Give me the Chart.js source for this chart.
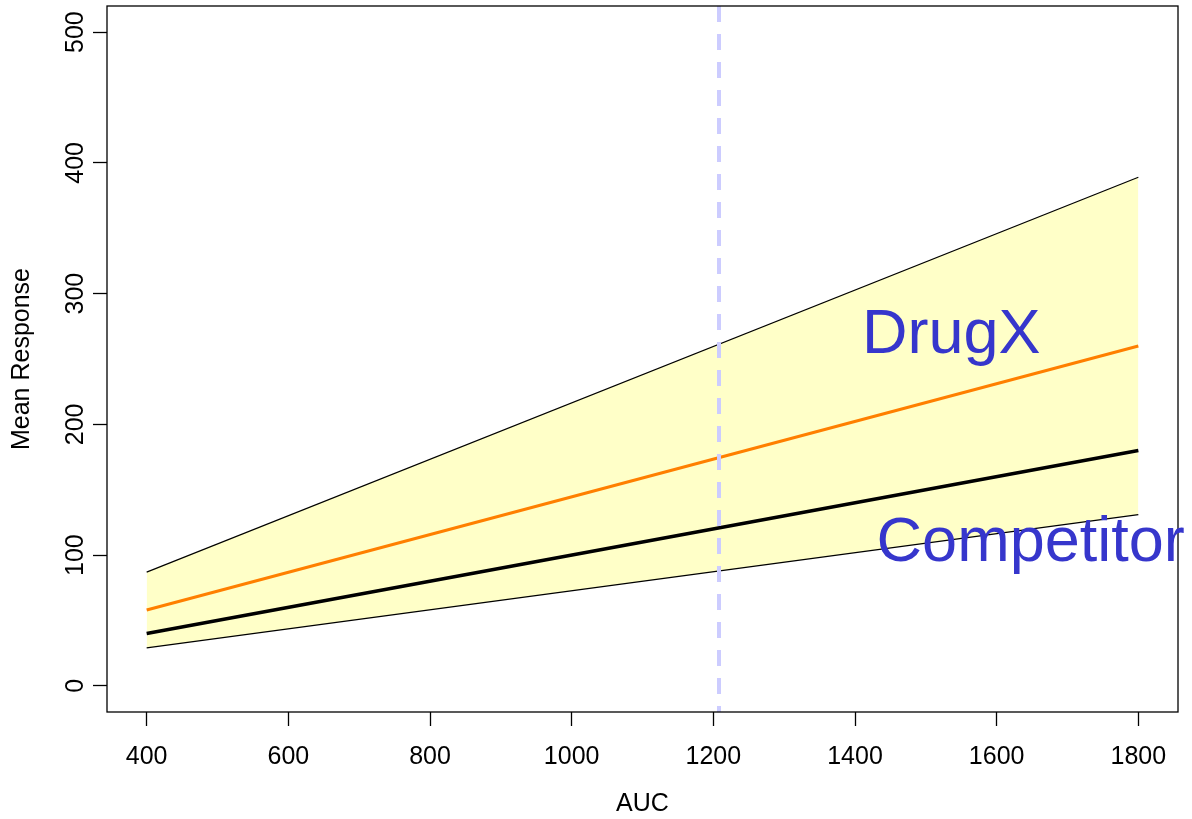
<!DOCTYPE html>
<html>
<head>
<meta charset="utf-8">
<script src="https://cdn.jsdelivr.net/npm/chart.js@4/dist/chart.umd.min.js"></script>
<style>
    html, body { margin: 0; padding: 0; background: #fff; }
    #wrap { width: 1192px; height: 819px; }
</style>
</head>
<body>
<div id="wrap"><canvas id="chart"></canvas></div>
<script>
// AUC values and the curves
const auc = [400, 1800];
const upperBound = [87, 389];
const lowerBound = [29, 131];
const drugX = [58, 260];
const competitor = [40, 180];
const xTicks = [400, 600, 800, 1000, 1200, 1400, 1600, 1800];
const yTicks = [0, 100, 200, 300, 400, 500];
const refAUC = 1208;

// text labels placed in data coordinates
const textLabels = [
    { text: 'DrugX', x: 1536, y: 268 },
    { text: 'Competitor', x: 1648, y: 109 },
];

const font = 'Liberation Sans, Arial, sans-serif';
const toXY = (ys) => auc.map((x, i) => ({ x, y: ys[i] }));

// full box around the plot region, plus the big blue labels
const boxAndText = {
    id: 'boxAndText',
    afterDatasetsDraw(chart) {
        const { ctx, chartArea: a, scales } = chart;
        ctx.save();
        ctx.strokeStyle = '#000';
        ctx.lineWidth = 1.3;
        ctx.strokeRect(a.left, a.top, a.right - a.left, a.bottom - a.top);
        ctx.fillStyle = '#3636cc';
        ctx.font = '63px ' + font;
        ctx.textAlign = 'center';
        ctx.textBaseline = 'middle';
        textLabels.forEach(l => {
            ctx.fillText(l.text, scales.x.getPixelForValue(l.x), scales.y.getPixelForValue(l.y));
        });
        ctx.restore();
    },
};

new Chart(document.getElementById('chart').getContext('2d'), {
    type: 'line',
    data: {
        datasets: [
            {
                label: 'upper',
                data: toXY(upperBound),
                borderColor: '#000',
                borderWidth: 1.2,
                pointRadius: 0,
                fill: '+1',
                backgroundColor: '#ffffc8',
                order: 5,
            },
            {
                label: 'lower',
                data: toXY(lowerBound),
                borderColor: '#000',
                borderWidth: 1.2,
                pointRadius: 0,
                fill: false,
                order: 4,
            },
            {
                label: 'DrugX',
                data: toXY(drugX),
                borderColor: '#ff7f00',
                borderWidth: 3,
                pointRadius: 0,
                fill: false,
                order: 3,
            },
            {
                label: 'Competitor',
                data: toXY(competitor),
                borderColor: '#000',
                borderWidth: 3.5,
                pointRadius: 0,
                fill: false,
                order: 2,
            },
            {
                label: 'ref',
                data: [{ x: refAUC, y: -20 }, { x: refAUC, y: 520 }],
                borderColor: '#ccccff',
                borderWidth: 4,
                borderDash: [16, 12],
                borderDashOffset: 10,
                pointRadius: 0,
                fill: false,
                order: 1,
            },
        ],
    },
    options: {
        responsive: true,
        maintainAspectRatio: false,
        animation: false,
        layout: { autoPadding: false, padding: { top: 6, right: 14, left: 0, bottom: 0 } },
        plugins: {
            legend: { display: false },
            tooltip: { enabled: false },
        },
        scales: {
            x: {
                type: 'linear',
                min: 344,
                max: 1856,
                afterBuildTicks: (axis) => { axis.ticks = xTicks.map(v => ({ value: v })); },
                afterFit: (scale) => { scale.height = 107; scale.paddingLeft = 0; scale.paddingRight = 0; },
                ticks: { color: '#000', font: { family: font, size: 25 }, padding: 16, autoSkip: false, maxRotation: 0, callback: (v) => String(v) },
                grid: { drawOnChartArea: false, tickLength: 14, color: '#000', tickWidth: 1.3 },
                border: { display: false },
                title: { display: true, text: 'AUC', color: '#000', font: { family: font, size: 25 }, padding: { top: 16, bottom: 0 } },
            },
            y: {
                type: 'linear',
                min: -20,
                max: 520,
                afterBuildTicks: (axis) => { axis.ticks = yTicks.map(v => ({ value: v })); },
                afterFit: (scale) => { scale.width = 107; scale.paddingTop = 0; scale.paddingBottom = 0; },
                ticks: { color: '#000', font: { family: font, size: 25 }, padding: -4, minRotation: 90, maxRotation: 90, crossAlign: 'center', autoSkip: false, callback: (v) => String(v) },
                grid: { drawOnChartArea: false, tickLength: 14, color: '#000', tickWidth: 1.3 },
                border: { display: false },
                title: { display: true, text: 'Mean Response', color: '#000', font: { family: font, size: 25 }, padding: { top: 7, bottom: 0 } },
            },
        },
    },
    plugins: [boxAndText],
});
</script>
</body>
</html>
